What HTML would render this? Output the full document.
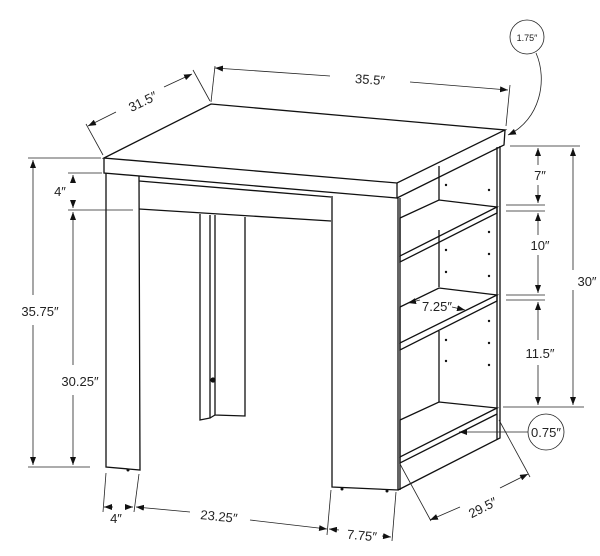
<!DOCTYPE html>
<html><head><meta charset="utf-8"><style>
html,body{margin:0;padding:0;background:#fff;}
svg{display:block;}
text{font-family:"Liberation Sans",sans-serif;font-size:13px;fill:#222;}
</style></head><body>
<svg width="600" height="556" viewBox="0 0 600 556" xmlns="http://www.w3.org/2000/svg">
<defs>
<marker id="a" markerWidth="8" markerHeight="6" refX="8" refY="3" orient="auto" markerUnits="userSpaceOnUse"><path d="M0,0 L8,3 L0,6 z" fill="#111"/></marker>
</defs>
<g stroke="#111" stroke-width="1.3" fill="none">
<path d="M104,158 L211,104 L505,130 L397,183 Z" fill="#fff"/>
<path d="M104,158 L104,173 L397,198 L397,183"/>
<path d="M397,198 L504,145 L505,130"/>
<path d="M106,173 L106,467 L140,470 L139,176"/>
<path d="M139,181 L331,197"/>
<path d="M139,209 L331,221"/>
<path d="M200,214 L200,420 L210,418 L210,215"/>
<path d="M215,215 L215,415 L245,416 L245,217"/>
<path d="M210,418 L215,415"/>
<circle cx="213" cy="380" r="2" fill="#111"/>
<path d="M332,196 L332,487 L398,490 L398,198"/>
<path d="M398,490 L500,438 L500,146"/>
<path d="M497,147 L497,440"/>
<path d="M439,166 L439,200"/>
<path d="M400,218 L439,200 L497,207 L400,256 Z" fill="#fff"/>
<path d="M400,256 L400,262 L497,213 L497,207"/>
<path d="M439,230 L439,287"/>
<path d="M400,307 L439,288 L497,295 L400,343 Z" fill="#fff"/>
<path d="M400,343 L400,350 L497,301 L497,295"/>
<path d="M439,331 L439,402"/>
<path d="M400,420 L439,402 L497,408 L400,457 Z" fill="#fff"/>
<path d="M400,457 L400,463 L497,414"/>
<path d="M400,198 L400,490"/>
</g>
<g fill="#111">
<circle cx="446" cy="185" r="1.2"/><circle cx="489" cy="190" r="1.2"/>
<circle cx="446" cy="250" r="1.2"/><circle cx="489" cy="232" r="1.2"/>
<circle cx="446" cy="272" r="1.2"/><circle cx="489" cy="254" r="1.2"/><circle cx="489" cy="276" r="1.2"/>
<circle cx="446" cy="340" r="1.2"/><circle cx="489" cy="321" r="1.2"/>
<circle cx="446" cy="361" r="1.2"/><circle cx="489" cy="343" r="1.2"/><circle cx="489" cy="365" r="1.2"/>
<circle cx="128" cy="470" r="1.5"/><circle cx="342" cy="489" r="1.5"/><circle cx="387" cy="491" r="1.5"/>
</g>
<g stroke="#222" stroke-width="0.8" fill="none">
<path d="M103,155 L86,124"/><path d="M210,101 L193,70"/>
<path d="M116,112 L88,126" marker-end="url(#a)"/><path d="M164,87 L192,74" marker-end="url(#a)"/>
<path d="M211,102 L215,66"/><path d="M506,126 L510,85"/>
<path d="M330,76 L215,68" marker-end="url(#a)"/><path d="M410,82 L508,90" marker-end="url(#a)"/>
<path d="M28,158 L101,158"/><path d="M28,467 L90,467"/>
<path d="M33,295 L33,160" marker-end="url(#a)"/><path d="M33,325 L33,465" marker-end="url(#a)"/>
<path d="M68,173 L102,173"/><path d="M68,210 L133,210"/>
<path d="M73,182 L73,175" marker-end="url(#a)"/><path d="M73,200 L73,208" marker-end="url(#a)"/>
<path d="M73,365 L73,212" marker-end="url(#a)"/><path d="M73,395 L73,465" marker-end="url(#a)"/>
<path d="M510,146 L580,146"/><path d="M506,205 L545,205"/><path d="M506,211 L545,211"/>
<path d="M506,295 L545,295"/><path d="M506,300 L545,300"/><path d="M503,407 L584,407"/>
<path d="M573,270 L573,148" marker-end="url(#a)"/><path d="M573,290 L573,405" marker-end="url(#a)"/>
<path d="M538,165 L538,148" marker-end="url(#a)"/><path d="M538,185 L538,203" marker-end="url(#a)"/>
<path d="M538,235 L538,213" marker-end="url(#a)"/><path d="M538,255 L538,293" marker-end="url(#a)"/>
<path d="M538,340 L538,302" marker-end="url(#a)"/><path d="M538,365 L538,405" marker-end="url(#a)"/>
<path d="M420,300 L408,303" marker-end="url(#a)"/><path d="M452,307 L465,310" marker-end="url(#a)"/>
<circle cx="527" cy="37" r="17"/>
<path d="M536,53 C548,80 540,120 508,135" marker-end="url(#a)"/>
<circle cx="546" cy="432" r="18"/>
<path d="M528,432 L459,432" marker-end="url(#a)"/>
<path d="M499,420 L530,477"/><path d="M400,464 L431,521"/>
<path d="M500,488 L528,474" marker-end="url(#a)"/><path d="M460,507 L430,520" marker-end="url(#a)"/>
<path d="M106,473 L103,512"/><path d="M139,474 L134,512"/>
<path d="M331,490 L327,535"/><path d="M396,492 L392,541"/>
<path d="M113,507 L104,507" marker-end="url(#a)"/><path d="M125,507 L133,507" marker-end="url(#a)"/>
<path d="M190,512 L136,507" marker-end="url(#a)"/><path d="M250,520 L327,529" marker-end="url(#a)"/>
<path d="M339,530 L329,529" marker-end="url(#a)"/><path d="M382,536 L391,537" marker-end="url(#a)"/>
</g>
<g>
<text x="143" y="106" transform="rotate(-26 143 102)" text-anchor="middle">31.5″</text>
<text x="370" y="84" transform="rotate(4 370 80)" text-anchor="middle">35.5″</text>
<text x="527" y="41" text-anchor="middle" style="font-size:9px">1.75″</text>
<text x="40" y="316" text-anchor="middle">35.75″</text>
<text x="60" y="196" text-anchor="middle">4″</text>
<text x="80" y="386" text-anchor="middle">30.25″</text>
<text x="540" y="180" text-anchor="middle">7″</text>
<text x="540" y="250" text-anchor="middle">10″</text>
<text x="587" y="286" text-anchor="middle">30″</text>
<text x="540" y="358" text-anchor="middle">11.5″</text>
<text x="437" y="311" text-anchor="middle">7.25″</text>
<text x="546" y="437" text-anchor="middle">0.75″</text>
<text x="483" y="512" transform="rotate(-27 483 508)" text-anchor="middle">29.5″</text>
<text x="116" y="523" text-anchor="middle">4″</text>
<text x="219" y="521" transform="rotate(6 219 516)" text-anchor="middle">23.25″</text>
<text x="362" y="540" transform="rotate(5 362 535)" text-anchor="middle">7.75″</text>
</g>
</svg>
</body></html>
